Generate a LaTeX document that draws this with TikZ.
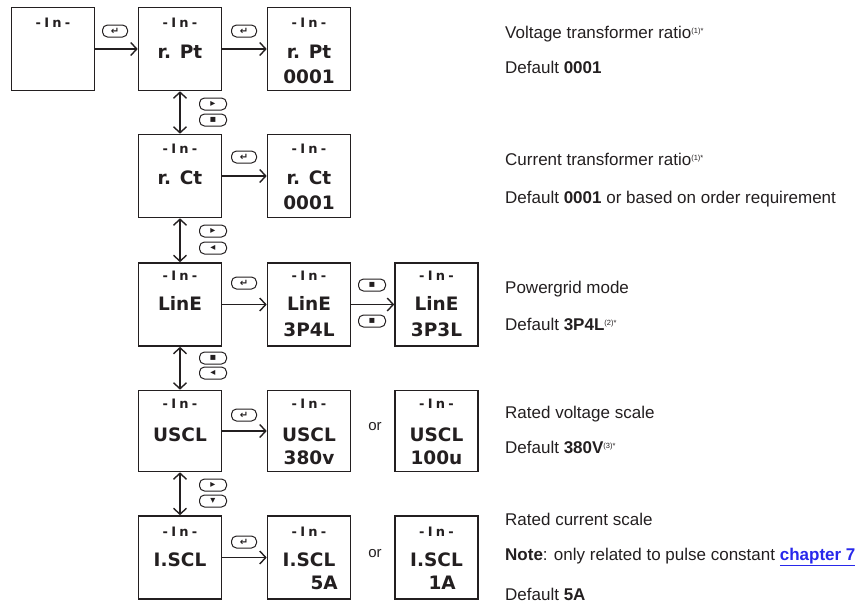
\documentclass[tikz,border=0pt]{standalone}
\usepackage{fontspec}
\setmainfont{Liberation Sans}
\newfontfamily\lcdfont{DejaVu Sans}
\newfontfamily\lcdtopfont[LetterSpace=25]{DejaVu Sans}
\newfontfamily\symfont{DejaVu Sans}
\usetikzlibrary{arrows.meta}
\definecolor{ink}{RGB}{35,31,32}
\definecolor{linkblue}{RGB}{40,40,235}
\newcommand{\mysup}[1]{\raisebox{5pt}{\fontsize{7.5}{7.5}\selectfont #1}}
\begin{document}
\begin{tikzpicture}[x=1pt,y=-1pt,
  lcd/.style={draw=ink, line width=1.6pt, minimum width=83pt, minimum height=83pt, inner sep=0pt},
  ltop/.style={text=ink, font=\lcdtopfont\bfseries\fontsize{13}{13}\selectfont, inner sep=0pt},
  lmain/.style={text=ink, font=\lcdfont\bfseries\fontsize{18.5}{18.5}\selectfont, inner sep=0pt},
  btn/.style={draw=ink, line width=1pt, rounded corners=5pt, minimum width=25pt, minimum height=12pt, inner sep=0pt, text=ink, font=\symfont\bfseries\fontsize{10}{10}\selectfont},
  flow/.style={draw=ink, line width=1.4pt, -{Straight Barb[length=6pt,width=13pt]}},
  both/.style={draw=ink, line width=1.4pt, {Straight Barb[length=6pt,width=13pt]}-{Straight Barb[length=6pt,width=13pt]}},
  desc/.style={anchor=base west, inner sep=0pt, text=ink, font=\fontsize{17}{20}\selectfont},
  ortext/.style={inner sep=0pt, text=ink, font=\fontsize{15}{15}\selectfont},
]
\useasboundingbox (0,0) rectangle (855,606);
% ---- boxes
\node[lcd] (b11) at (53,49) {};
\node[lcd] (b12) at (180,49) {};
\node[lcd] (b13) at (309,49) {};
\node[lcd] (b22) at (180,176) {};
\node[lcd] (b23) at (309,176) {};
\node[lcd] (b32) at (180,304.5) {};
\node[lcd] (b33) at (309,304.5) {};
\node[lcd] (b34) at (436.5,304.5) {};
\node[lcd, minimum height=81pt] (b42) at (180,431) {};
\node[lcd, minimum height=81pt] (b43) at (309,431) {};
\node[lcd, minimum height=81pt] (b44) at (436.5,431) {};
\node[lcd] (b52) at (180,557.5) {};
\node[lcd] (b53) at (309,557.5) {};
\node[lcd] (b54) at (436.5,557.5) {};
% ---- display texts
\node[ltop] (d11a) at (53,23) {-In-};
\node[ltop] (d12a) at (180,23) {-In-};
\node[lmain] (d12b) at (180,52) {r. Pt};
\node[ltop] (d13a) at (309,23) {-In-};
\node[lmain] (d13b) at (309,52) {r. Pt};
\node[lmain] (d13c) at (309,77) {0001};
\node[ltop] (d22a) at (180,149) {-In-};
\node[lmain] (d22b) at (180,178) {r. Ct};
\node[ltop] (d23a) at (309,149) {-In-};
\node[lmain] (d23b) at (309,178) {r. Ct};
\node[lmain] (d23c) at (309,203) {0001};
\node[ltop] (d32a) at (180,276) {-In-};
\node[lmain] (d32b) at (180,303) {LinE};
\node[ltop] (d33a) at (309,276) {-In-};
\node[lmain] (d33b) at (309,303) {LinE};
\node[lmain] (d33c) at (309,330) {3P4L};
\node[ltop] (d34a) at (436.5,276) {-In-};
\node[lmain] (d34b) at (436.5,303) {LinE};
\node[lmain] (d34c) at (436.5,330) {3P3L};
\node[ltop] (d42a) at (180,404) {-In-};
\node[lmain] (d42b) at (180,435) {USCL};
\node[ltop] (d43a) at (309,404) {-In-};
\node[lmain] (d43b) at (309,435) {USCL};
\node[lmain] (d43c) at (309,458) {380v};
\node[ltop] (d44a) at (436.5,404) {-In-};
\node[lmain] (d44b) at (436.5,435) {USCL};
\node[lmain] (d44c) at (436.5,458) {100u};
\node[ltop] (d52a) at (180,532) {-In-};
\node[lmain] (d52b) at (180,560) {I.SCL};
\node[ltop] (d53a) at (309,532) {-In-};
\node[lmain] (d53b) at (309,560) {I.SCL};
\node[lmain, anchor=east] (d53c) at (338,583) {5A};
\node[ltop] (d54a) at (436.5,532) {-In-};
\node[lmain] (d54b) at (436.5,560) {I.SCL};
\node[lmain, anchor=east] (d54c) at (456,583) {1A};
% ---- buttons
\node[btn] (e1) at (115,31) {↵};
\node[btn] (e2) at (244,31) {↵};
\node[btn] (e3) at (244,157) {↵};
\node[btn] (e4) at (244,283) {↵};
\node[btn] (e5) at (244,415) {↵};
\node[btn] (e6) at (244,542) {↵};
\node[btn, minimum width=27pt] (n1a) at (213,104) {▸};
\node[btn, minimum width=27pt] (n1b) at (213,120) {▪};
\node[btn, minimum width=27pt] (n2a) at (213,231) {▸};
\node[btn, minimum width=27pt] (n2b) at (213,248) {◂};
\node[btn, minimum width=27pt] (n3a) at (213,358) {▪};
\node[btn, minimum width=27pt] (n3b) at (213,373) {◂};
\node[btn, minimum width=27pt] (n4a) at (213,485) {▸};
\node[btn, minimum width=27pt] (n4b) at (213,501) {▾};
\node[btn, minimum width=27pt] (h1) at (372,285) {▪};
\node[btn, minimum width=27pt] (h2) at (372,321) {▪};
% ---- connectors
\draw[flow] (b11.east) -- (b12.west);
\draw[flow] (b12.east) -- (b13.west);
\draw[flow] (b22.east) -- (b23.west);
\draw[flow] (b32.east) -- (b33.west);
\draw[flow] (b33.east) -- (b34.west);
\draw[flow] (b42.east) -- (b43.west);
\draw[flow] (b52.east) -- (b53.west);
\draw[both] (b12.south) -- (b22.north);
\draw[both] (b22.south) -- (b32.north);
\draw[both] (b32.south) -- (b42.north);
\draw[both] (b42.south) -- (b52.north);
% ---- or
\node[ortext] (or1) at (375,427) {or};
\node[ortext] (or2) at (375,554) {or};
% ---- descriptions
\node[desc] (t1) at (505,38) {Voltage transformer ratio\mysup{(1)*}};
\node[desc] (t2) at (505,73) {Default \textbf{0001}};
\node[desc] (t3) at (505,165) {Current transformer ratio\mysup{(1)*}};
\node[desc] (t4) at (505,203) {Default \textbf{0001} or based on order requirement};
\node[desc] (t5) at (505,293) {Powergrid mode};
\node[desc] (t6) at (505,330) {Default \textbf{3P4L}\mysup{(2)*}};
\node[desc] (t7) at (505,418) {Rated voltage scale};
\node[desc] (t8) at (505,453) {Default \textbf{380V}\mysup{(3)*}};
\node[desc] (t9) at (505,525) {Rated current scale};
\node[desc] (t10) at (505,560) {\textbf{Note}: only related to pulse constant \textcolor{linkblue}{\textbf{\underline{chapter 7}}}};
\node[desc] (t11) at (505,600) {Default \textbf{5A}};
\end{tikzpicture}
\end{document}
